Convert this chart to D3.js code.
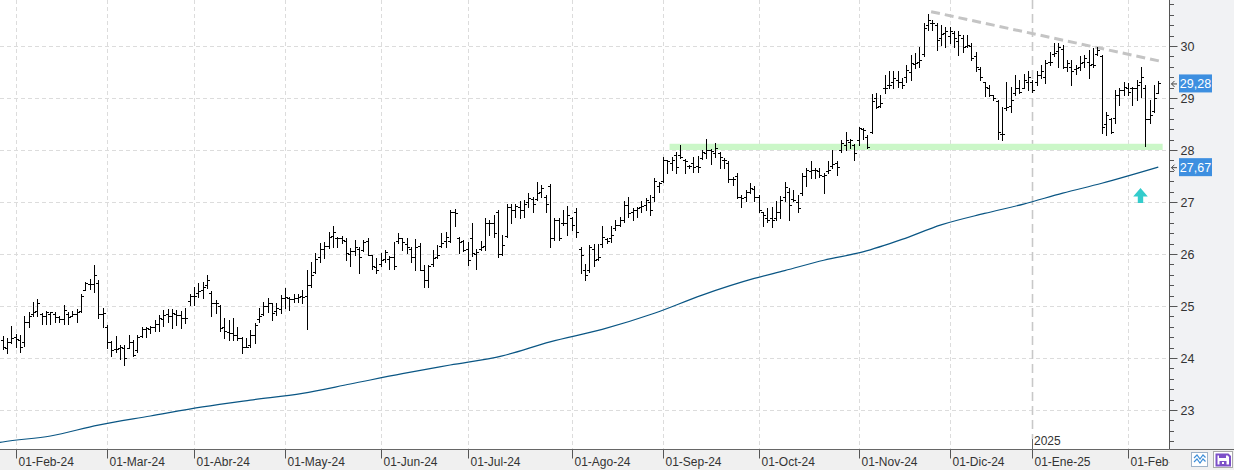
<!DOCTYPE html>
<html><head><meta charset="utf-8">
<script src="https://cdn.jsdelivr.net/npm/d3@7/dist/d3.min.js"></script>
<style>
html,body{margin:0;padding:0;background:#fff;}
svg{display:block;font-family:"Liberation Sans",Arial,sans-serif;}
</style></head><body>
<svg id="c" width="1234" height="470"></svg>
<script>
// ---------- DATA (daily OHLC, 29-Jan-2024 .. 11-Feb-2025) ----------
const opens = [
24.35,24.2,24.3,24.4,24.35,24.3,24.7,24.85,24.9,24.85,
24.8,24.85,24.85,24.78,24.75,24.85,24.8,24.85,24.9,25.3,
25.42,25.42,25.45,24.85,24.6,24.3,24.18,24.2,24.2,24.2,
24.3,24.15,24.42,24.55,24.55,24.6,24.65,24.75,24.85,24.8,
24.85,24.83,24.76,25.1,25.2,25.25,25.3,25.4,25.25,25.05,
25.0,24.6,24.5,24.48,24.45,24.38,24.22,24.25,24.45,24.75,
24.85,25.0,25.05,24.9,24.95,25.15,25.15,25.13,25.15,25.2,
25.2,25.4,25.65,25.95,26.1,26.15,26.35,26.3,26.3,26.25,
26.0,26.05,26.1,26.08,26.25,25.98,25.75,25.8,25.9,25.9,
25.94,26.25,26.3,26.2,26.1,25.95,26.15,25.7,25.5,25.8,
25.95,26.15,26.25,26.25,26.8,26.3,26.25,26.1,26.3,26.0,
26.1,26.15,26.6,26.6,26.8,26.0,26.35,26.9,26.85,26.9,
26.85,27.0,27.05,27.05,27.2,27.1,27.3,26.3,26.65,26.6,
26.6,26.7,26.8,26.1,25.7,25.7,26.1,25.9,26.2,26.28,
26.3,26.5,26.55,26.66,26.95,26.8,26.85,26.9,26.95,27.0,
27.1,27.3,27.4,27.8,27.75,27.9,27.9,27.8,27.7,27.75,
27.7,27.85,27.95,28.0,27.95,27.95,27.8,27.75,27.45,27.5,
27.1,27.1,27.2,27.25,27.1,26.8,26.7,26.7,26.7,26.8,
27.1,27.2,27.05,27.0,27.17,27.5,27.6,27.62,27.6,27.5,
27.6,27.7,27.75,28.0,28.1,28.15,28.1,28.2,28.4,28.25,
28.35,29.0,28.85,29.2,29.25,29.3,29.35,29.3,29.4,29.5,
29.65,29.7,29.85,30.4,30.45,30.4,30.15,30.25,30.2,30.25,
30.1,30.15,30.0,30.0,29.8,29.55,29.3,29.2,29.05,28.95,
28.3,28.8,28.85,29.1,29.2,29.2,29.3,29.3,29.3,29.45,
29.4,29.7,29.85,29.9,29.95,29.6,29.6,29.55,29.6,29.7,
29.7,29.65,29.85,29.8,28.5,28.6,28.61,29.05,29.15,29.2,
29.2,29.2,29.3,29.2,28.6,28.75,29.1];
const highs = [
24.42,24.38,24.62,24.46,24.44,24.80,24.89,25.07,25.13,24.87,
24.90,24.89,24.89,24.80,25.02,24.89,24.90,24.94,25.24,25.47,
25.51,25.79,25.50,24.96,24.63,24.33,24.42,24.25,24.25,24.44,
24.35,24.44,24.59,24.59,24.62,24.74,24.83,24.92,24.94,24.94,
24.92,24.90,24.96,25.24,25.37,25.44,25.47,25.60,25.28,25.12,
25.02,24.76,24.73,24.76,24.60,24.40,24.38,24.54,24.68,24.97,
25.08,25.15,25.05,25.05,25.21,25.34,25.18,25.24,25.24,25.31,
25.69,25.85,26.01,26.21,26.24,26.43,26.53,26.33,26.35,26.30,
26.11,26.27,26.13,26.27,26.30,25.98,25.92,26.01,26.08,25.96,
26.24,26.40,26.30,26.30,26.14,26.28,26.21,25.79,25.79,26.08,
26.17,26.40,26.43,26.85,26.86,26.33,26.27,26.24,26.59,26.09,
26.25,26.69,26.65,26.75,26.85,26.37,26.97,26.97,26.97,27.01,
27.04,27.18,27.10,27.39,27.33,27.13,27.35,26.69,26.69,26.85,
26.92,26.72,26.88,26.14,25.80,26.17,26.20,26.20,26.53,26.30,
26.53,26.65,26.72,27.01,27.10,26.88,26.91,27.01,27.07,27.13,
27.46,27.39,27.86,27.81,27.87,27.97,28.10,27.82,27.72,27.87,
27.88,28.00,28.21,28.02,28.13,27.97,27.84,27.78,27.49,27.55,
27.14,27.23,27.36,27.30,27.14,26.81,26.88,26.90,27.01,27.12,
27.39,27.26,27.23,27.14,27.55,27.65,27.78,27.65,27.65,27.55,
27.78,28.00,27.78,28.19,28.35,28.22,28.11,28.45,28.42,28.29,
29.08,29.09,29.06,29.44,29.51,29.51,29.51,29.38,29.63,29.83,
29.86,29.99,30.44,30.62,30.50,30.44,30.40,30.37,30.37,30.28,
30.28,30.21,30.21,30.05,29.89,29.60,29.31,29.25,29.06,28.96,
28.83,29.31,29.22,29.44,29.35,29.47,29.51,29.35,29.51,29.63,
29.73,29.89,30.05,30.05,30.02,29.73,29.73,29.63,29.80,29.83,
29.92,29.96,29.99,29.83,28.74,28.61,29.15,29.19,29.31,29.28,
29.22,29.35,29.60,29.25,28.96,29.25,29.33];
const lows = [
24.17,24.10,24.28,24.22,24.12,24.23,24.60,24.80,24.80,24.65,
24.65,24.65,24.70,24.70,24.65,24.65,24.80,24.70,24.89,25.30,
25.32,25.26,24.76,24.60,24.19,24.03,24.12,23.99,23.87,24.19,
24.04,24.12,24.40,24.40,24.48,24.51,24.51,24.62,24.70,24.57,
24.63,24.57,24.67,25.02,25.02,25.18,25.15,25.34,24.80,24.86,
24.51,24.38,24.35,24.35,24.35,24.09,24.21,24.22,24.28,24.70,
24.83,24.89,24.73,24.83,24.86,24.96,24.92,25.08,25.08,25.05,
24.56,25.37,25.64,25.85,25.92,26.11,26.14,26.13,26.21,25.88,
25.76,25.98,25.63,26.05,25.98,25.72,25.63,25.76,25.85,25.72,
25.72,26.21,26.08,26.01,25.85,25.69,25.69,25.36,25.37,25.76,
25.92,26.14,26.14,26.24,26.53,26.01,26.05,25.79,25.96,25.72,
26.08,26.08,26.37,26.33,25.95,25.98,26.33,26.60,26.72,26.69,
26.72,26.91,26.81,27.04,27.10,26.81,26.14,26.27,26.27,26.56,
26.37,26.46,26.33,25.63,25.50,25.66,25.76,25.88,26.14,26.21,
26.24,26.46,26.53,26.62,26.72,26.65,26.72,26.81,26.85,26.75,
27.01,27.20,27.39,27.55,27.62,27.55,27.84,27.56,27.66,27.58,
27.58,27.82,27.84,27.74,27.87,27.65,27.65,27.39,27.33,27.07,
26.91,27.01,27.17,27.01,26.81,26.53,26.62,26.51,26.65,26.69,
27.01,26.65,27.01,26.81,27.14,27.30,27.46,27.46,27.49,27.17,
27.55,27.65,27.52,27.97,28.00,28.03,27.81,28.10,28.22,28.03,
28.32,28.80,28.83,29.09,29.19,29.19,29.22,29.19,29.31,29.35,
29.57,29.60,29.80,30.31,30.31,29.92,30.02,29.99,30.05,29.99,
29.83,29.89,29.99,29.73,29.51,29.35,29.03,29.03,28.96,28.22,
28.19,28.77,28.74,29.06,29.09,29.19,29.15,29.12,29.25,29.38,
29.28,29.63,29.80,29.60,29.57,29.51,29.25,29.47,29.54,29.60,
29.38,29.60,29.83,28.32,28.29,28.32,28.51,28.87,29.06,29.06,
28.87,28.96,29.02,28.08,28.52,28.74,29.09];
const closes = [
24.22,24.30,24.38,24.36,24.22,24.70,24.80,24.89,25.05,24.81,
24.89,24.89,24.78,24.75,24.92,24.78,24.85,24.89,25.20,25.44,
25.42,25.60,24.85,24.86,24.30,24.15,24.18,24.22,24.00,24.31,
24.06,24.40,24.55,24.57,24.60,24.65,24.76,24.83,24.80,24.86,
24.83,24.76,24.76,25.20,25.20,25.28,25.37,25.50,25.05,25.05,
24.57,24.51,24.48,24.44,24.38,24.22,24.22,24.44,24.63,24.81,
25.00,25.05,24.86,24.97,25.15,25.18,25.13,25.15,25.18,25.18,
25.40,25.60,25.90,26.09,26.15,26.33,26.43,26.30,26.27,26.01,
26.05,26.14,25.94,26.24,25.98,25.76,25.69,25.88,26.03,25.94,
25.76,26.30,26.24,26.13,25.94,26.14,25.70,25.50,25.76,25.92,
25.98,26.21,26.33,26.80,26.78,26.24,26.08,25.88,26.01,26.03,
26.13,26.59,26.59,26.40,26.00,26.17,26.90,26.85,26.92,26.85,
26.97,27.07,26.97,27.17,27.26,26.97,26.30,26.65,26.30,26.59,
26.75,26.56,26.43,25.98,25.60,26.14,25.88,25.95,26.33,26.25,
26.37,26.55,26.65,26.95,26.79,26.85,26.88,26.92,27.04,26.85,
27.40,27.37,27.81,27.78,27.81,27.68,27.87,27.78,27.70,27.68,
27.68,27.97,28.00,27.98,28.03,27.87,27.81,27.45,27.45,27.10,
27.07,27.20,27.26,27.10,26.85,26.75,26.65,26.65,26.81,27.04,
27.29,26.94,27.04,26.88,27.50,27.62,27.62,27.62,27.52,27.52,
27.62,27.74,27.68,28.13,28.19,28.19,27.94,28.42,28.38,28.06,
28.95,28.83,28.90,29.19,29.25,29.38,29.31,29.25,29.54,29.68,
29.68,29.73,30.34,30.50,30.44,30.12,30.24,30.28,30.28,30.15,
30.21,29.99,30.02,29.76,29.60,29.40,29.22,29.06,29.00,28.35,
28.30,28.83,28.96,29.19,29.12,29.35,29.41,29.15,29.44,29.51,
29.67,29.70,29.86,29.99,29.60,29.67,29.51,29.57,29.67,29.76,
29.63,29.63,29.92,28.45,28.67,28.35,29.05,29.15,29.22,29.12,
29.19,29.25,29.41,28.60,28.67,29.00,29.28];

// 200-session moving average, read at sampled bar indices
const maIdx  = [-1,0,11,22,34,46,57,69,80,92,103,115,126,138,150,161,173,180,189,198,207,216,226,235,244,253,266];
const maVals = [22.37,22.385,22.50,22.71,22.885,23.06,23.19,23.32,23.50,23.70,23.865,24.04,24.31,24.55,24.86,25.21,25.53,25.68,25.88,26.04,26.28,26.56,26.78,26.96,27.17,27.36,27.67];

// month ticks (bar index of first session) and labels
const monthIdx    = [3,24,44,65,87,107,131,152,174,197,218,237,259];
const monthLabels = ["01-Feb-24","01-Mar-24","01-Abr-24","01-May-24","01-Jun-24","01-Jul-24","01-Ago-24","01-Sep-24","01-Oct-24","01-Nov-24","01-Dic-24","01-Ene-25","01-Feb-25"];
const yearIdx = 237, yearLabel = "2025";

const priceTicks = [23,24,25,26,27,28,29,30];

// drawings
const trendIdx  = [213.7, 266.9];
const trendVals = [30.66, 29.70];
const bandIdx   = [153.5, 267.0];
const bandVals  = [28.0, 28.12];
const arrowIdx = 261.9, arrowVal = 26.98;
const lastClose = 29.28, lastMA = 27.67;

// ---------- CHART ----------
const W = 1234, H = 470, plotR = 1169.5, plotB = 449.5;
const svg = d3.select("#c");
const x = d3.scaleLinear().domain([0, 266]).range([2.7, 1158.3]);
const y = d3.scaleLinear().domain([23, 30]).range([410, 46]);
const fmt = v => d3.format(".2f")(v).replace(".", ",");

svg.append("defs").append("clipPath").attr("id","pc")
  .append("rect").attr("x",0).attr("y",0).attr("width",plotR).attr("height",plotB);

const plot = svg.append("g").attr("clip-path","url(#pc)");

// grid
plot.append("g").selectAll("line").data(priceTicks).join("line")
  .attr("x1",0).attr("x2",plotR)
  .attr("y1",d=>Math.round(y(d))+0.5).attr("y2",d=>Math.round(y(d))+0.5)
  .attr("stroke","#dcdcdc").attr("stroke-dasharray","4,3");
plot.append("g").selectAll("line").data(monthIdx.filter(d=>d!==yearIdx)).join("line")
  .attr("y1",0).attr("y2",plotB)
  .attr("x1",d=>Math.round(x(d))+0.5).attr("x2",d=>Math.round(x(d))+0.5)
  .attr("stroke","#dcdcdc").attr("stroke-dasharray","4,3");
// year separator
const yx = Math.round(x(yearIdx))+0.5;
plot.append("line").attr("x1",yx).attr("x2",yx).attr("y1",0).attr("y2",439)
  .attr("stroke","#c8c8c8").attr("stroke-width",1.6).attr("stroke-dasharray","9,5");

// support band
plot.append("rect")
  .attr("x",x(bandIdx[0])).attr("width",x(bandIdx[1])-x(bandIdx[0]))
  .attr("y",y(bandVals[1])).attr("height",y(bandVals[0])-y(bandVals[1]))
  .attr("fill","#cbf7c8");

// trend line
plot.append("line")
  .attr("x1",x(trendIdx[0])).attr("y1",y(trendVals[0]))
  .attr("x2",x(trendIdx[1])).attr("y2",y(trendVals[1]))
  .attr("stroke","#c4c4c4").attr("stroke-width",3).attr("stroke-dasharray","9,5");

// moving average
const maPts = maIdx.map((d,i)=>[d, maVals[i]]);
plot.append("path").datum(maPts)
  .attr("d", d3.line().curve(d3.curveMonotoneX).x(d=>x(d[0])).y(d=>y(d[1])))
  .attr("fill","none").attr("stroke","#0a5684").attr("stroke-width",1.2);

// OHLC bars
const bars = d3.range(opens.length).map(i=>({i,o:opens[i],h:highs[i],l:lows[i],c:closes[i]}));
plot.append("g").selectAll("path").data(bars).join("path")
  .attr("d", d=>{
    const X = Math.round(x(d.i))+0.5;
    const yh = Math.round(y(d.h)), yl = Math.round(y(d.l))+1;
    const yo = Math.round(y(d.o))+0.5, yc = Math.round(y(d.c))+0.5;
    return `M${X},${yh}V${yl}M${X-2.5},${yo}H${X}M${X},${yc}H${X+2.5}`;
  })
  .attr("stroke","#000").attr("stroke-width",1).attr("fill","none")
  .attr("shape-rendering","crispEdges");

// up arrow marker
const ax = x(arrowIdx), ab = y(arrowVal);
plot.append("path")
  .attr("d",`M${ax-2.7},${ab}V${ab-6.5}H${ax-7.3}L${ax},${ab-15}L${ax+7.3},${ab-6.5}H${ax+2.7}V${ab}Z`)
  .attr("fill","#33cccc");

// bottom axis strip
svg.append("rect").attr("x",0).attr("y",plotB).attr("width",W).attr("height",H-plotB).attr("fill","#f0f0f0");
const xAxis = svg.append("g").attr("transform",`translate(0,${plotB})`)
  .call(d3.axisBottom(x).tickValues(monthIdx).tickSize(9).tickFormat((d,i)=>monthLabels[i]));
xAxis.select(".domain").remove();
xAxis.selectAll(".tick").attr("transform",d=>`translate(${Math.round(x(d))+0.5},0)`);
xAxis.selectAll(".tick line").attr("stroke","#555");
xAxis.selectAll(".tick text").attr("text-anchor","start").attr("x",2).attr("y",8)
  .attr("fill","#333").style("font-size","12px").style("font-family","Liberation Sans, Arial, sans-serif");
svg.append("line").attr("x1",0).attr("x2",W).attr("y1",plotB).attr("y2",plotB).attr("stroke","#666");
// year tick + label
svg.append("line").attr("x1",yx).attr("x2",yx).attr("y1",439).attr("y2",plotB).attr("stroke","#666");
svg.append("text").attr("x",yx+1.5).attr("y",445).text(yearLabel)
  .attr("fill","#333").style("font-size","12px");

// right axis panel
svg.append("rect").attr("x",plotR).attr("y",0).attr("width",W-plotR).attr("height",H).attr("fill","#f1f2f4");
svg.append("rect").attr("x",plotR).attr("y",plotB).attr("width",W-plotR).attr("height",H-plotB).attr("fill","#f0f0f0");
svg.append("line").attr("x1",plotR).attr("x2",plotR).attr("y1",0).attr("y2",plotB).attr("stroke","#555");
svg.append("line").attr("x1",plotR).attr("x2",W).attr("y1",plotB).attr("y2",plotB).attr("stroke","#666");
const minor = d3.range(224, 310, 2).map(v=>v/10).filter(v=>!priceTicks.includes(v));
svg.append("g").selectAll("line").data(minor).join("line")
  .attr("x1",plotR).attr("x2",plotR+4.5)
  .attr("y1",d=>Math.round(y(d))+0.5).attr("y2",d=>Math.round(y(d))+0.5)
  .attr("stroke","#555");
const yAxis = svg.append("g").attr("transform",`translate(${plotR},0)`)
  .call(d3.axisRight(y).tickValues(priceTicks).tickSize(8).tickPadding(3).tickFormat(d=>d));
yAxis.select(".domain").remove();
yAxis.selectAll(".tick").attr("transform",d=>`translate(0,${Math.round(y(d))+0.5})`);
yAxis.selectAll(".tick line").attr("stroke","#555");
yAxis.selectAll(".tick text").attr("fill","#333").style("font-size","12.5px")
  .style("font-family","Liberation Sans, Arial, sans-serif");

// price tags
[[lastClose],[lastMA]].forEach(([v])=>{
  const cy = y(v);
  const g = svg.append("g");
  g.append("rect").attr("x",1179).attr("y",cy-9).attr("width",33).attr("height",18).attr("fill","#3d8fe0");
  g.append("text").attr("x",1195.5).attr("y",cy+4.5).attr("text-anchor","middle")
    .attr("fill","#fff").style("font-size","12.5px").text(fmt(v));
  g.append("path").attr("d",`M1177,${cy+0.5}H1171.5M1174.5,${cy-2.5}L1171.5,${cy+0.5}L1174.5,${cy+3.5}`)
    .attr("stroke","#444").attr("fill","none");
});

// toolbar icons
const ic = svg.append("g");
ic.append("rect").attr("x",1191.5).attr("y",452.5).attr("width",16).attr("height",14).attr("fill","#fff").attr("stroke","#9fb3c8");
ic.append("path").attr("d","M1194,458L1197,455L1200,459L1203,455L1205.5,457.5M1194,462L1197,459L1200,463L1203,459L1205.5,461.5")
  .attr("stroke","#3f8fd8").attr("stroke-width",1.2).attr("fill","none");
ic.append("rect").attr("x",1213.5).attr("y",451.5).attr("width",19).attr("height",16).attr("fill","#fff").attr("stroke","#aaa");
ic.append("path").attr("d","M1216.5,454.5H1228L1230,456.5V465.5H1216.5Z").attr("fill","none").attr("stroke","#7c4fc8").attr("stroke-width",2);
ic.append("rect").attr("x",1219).attr("y",454).attr("width",7).attr("height",4).attr("fill","#7c4fc8");
ic.append("rect").attr("x",1219.5).attr("y",461).attr("width",7).attr("height",4).attr("fill","#7c4fc8");
ic.append("rect").attr("x",1222).attr("y",462).attr("width",2).attr("height",2).attr("fill","#fff");
</script>
</body></html>
